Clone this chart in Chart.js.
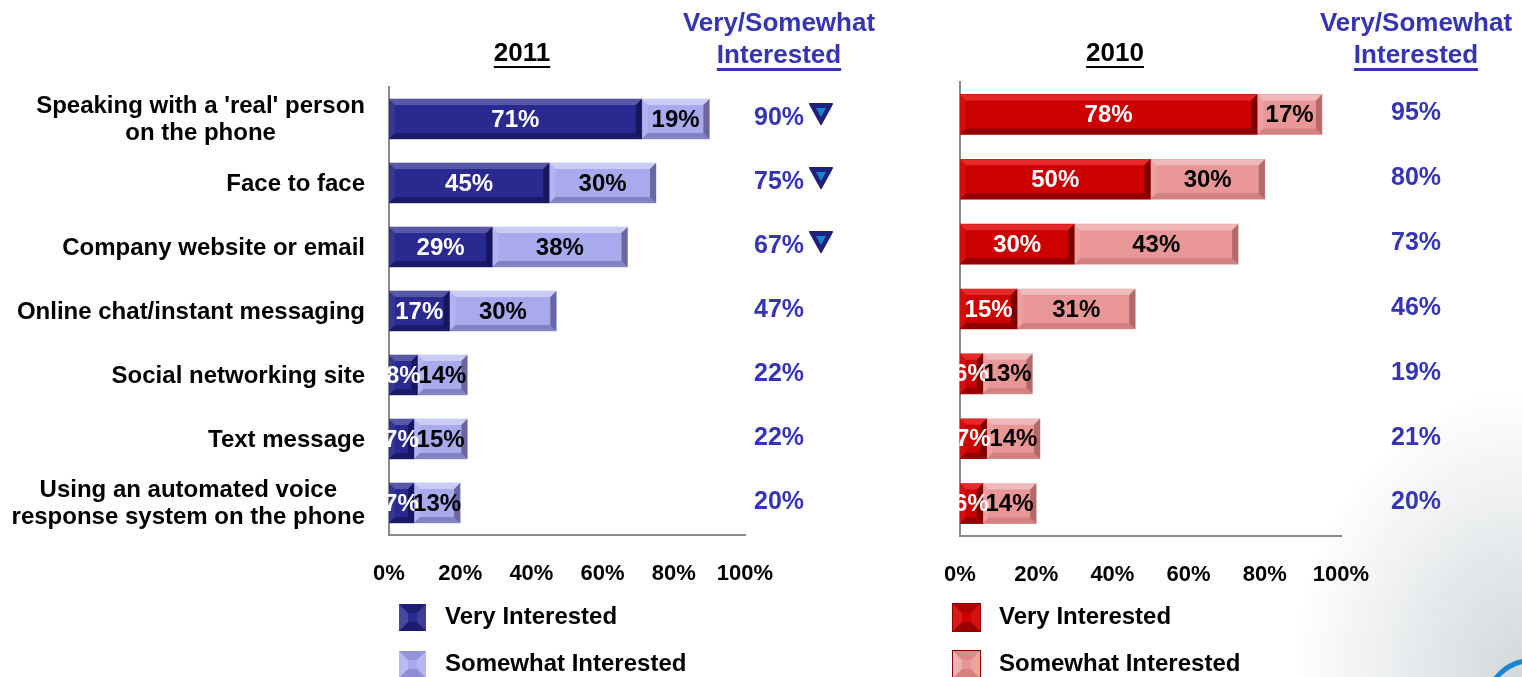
<!DOCTYPE html>
<html>
<head>
<meta charset="utf-8">
<script src="https://cdn.jsdelivr.net/npm/chart.js@4.4.0/dist/chart.umd.min.js"></script>
<style>
  html, body { margin: 0; padding: 0; }
  body {
    width: 1522px; height: 677px; overflow: hidden; position: relative;
    background: radial-gradient(ellipse 230px 290px at 100% 100%, #d3d8db 0%, #e6e9eb 45%, #ffffff 100%);
  }
  canvas { position: absolute; top: 0; }
  #chart2011 { left: 0; }
  #chart2010 { left: 900px; }
  .logo {
    position: absolute; left: 1484px; top: 658px; width: 96px; height: 96px;
    border-radius: 50%; border: 5px solid #1a86d0; box-sizing: border-box;
  }
</style>
</head>
<body>
<canvas id="chart2011" width="900" height="677"></canvas>
<canvas id="chart2010" width="622" height="677"></canvas>
<div class="logo"></div>
<script>
// カテゴリ（複数行ラベル）
const categories = [
    ["Speaking with a 'real' person", "on the phone"],
    ["Face to face"],
    ["Company website or email"],
    ["Online chat/instant messaging"],
    ["Social networking site"],
    ["Text message"],
    ["Using an automated voice", "response system on the phone"]
];
const xTicks = [0, 20, 40, 60, 80, 100];
const seriesNames = ['Very Interested', 'Somewhat Interested'];

// 2011年
const very2011 = [71, 45, 29, 17, 8, 7, 7];
const somewhat2011 = [19, 30, 38, 30, 14, 15, 13];
const total2011 = [90, 75, 67, 47, 22, 22, 20];
const down2011 = [true, true, true, false, false, false, false];

// 2010年
const very2010 = [78, 50, 30, 15, 6, 7, 6];
const somewhat2010 = [17, 30, 43, 31, 13, 14, 14];
const total2010 = [95, 80, 73, 46, 19, 21, 20];
const down2010 = [false, false, false, false, false, false, false];

const FONT = '"Liberation Sans", Arial, sans-serif';
const TOTAL_COLOR = '#3434b4';

// 立体風の縁取り（上・下・左・右の台形）
function drawBevel(ctx, l, t, r, b, d, shades) {
    d = Math.min(d, (r - l) / 2, (b - t) / 2);
    const faces = [
        [[l, t], [r, t], [r - d, t + d], [l + d, t + d], shades[0]],
        [[l, b], [r, b], [r - d, b - d], [l + d, b - d], shades[1]],
        [[l, t], [l + d, t + d], [l + d, b - d], [l, b], shades[2]],
        [[r, t], [r - d, t + d], [r - d, b - d], [r, b], shades[3]]
    ];
    faces.forEach(f => {
        ctx.beginPath();
        ctx.moveTo(f[0][0], f[0][1]);
        for (let k = 1; k < 4; k++) ctx.lineTo(f[k][0], f[k][1]);
        ctx.closePath();
        ctx.fillStyle = f[4];
        ctx.fill();
    });
}

function drawDownTriangle(ctx, cx, cy) {
    ctx.save();
    ctx.lineJoin = 'round';
    ctx.beginPath();
    ctx.moveTo(cx - 11, cy - 10);
    ctx.lineTo(cx + 11, cy - 10);
    ctx.lineTo(cx, cy + 10);
    ctx.closePath();
    ctx.fillStyle = '#20207e';
    ctx.strokeStyle = '#20207e';
    ctx.lineWidth = 2;
    ctx.fill();
    ctx.stroke();
    ctx.beginPath();
    ctx.moveTo(cx - 5, cy - 6);
    ctx.lineTo(cx + 5, cy - 6);
    ctx.lineTo(cx, cy + 3);
    ctx.closePath();
    ctx.fillStyle = '#1c84cc';
    ctx.fill();
    ctx.restore();
}

function underlinedText(ctx, text, x, y, color, thick) {
    ctx.fillStyle = color;
    ctx.fillText(text, x, y);
    const w = ctx.measureText(text).width;
    ctx.fillRect(x - w / 2, y + 12, w, thick);
}

const panelPlugin = {
    id: 'panel',
    afterDatasetsDraw(chart) {
        const ctx = chart.ctx;
        const rects = [];
        ctx.save();
        chart.data.datasets.forEach((ds, di) => {
            chart.getDatasetMeta(di).data.forEach((bar, i) => {
                const p = bar.getProps(['x', 'y', 'base', 'height'], true);
                const l = Math.min(p.x, p.base), r = Math.max(p.x, p.base);
                const t = p.y - p.height / 2, b = p.y + p.height / 2;
                drawBevel(ctx, l, t, r, b, 6, ds.bevel);
                rects.push({ text: ds.data[i] + '%', x: (l + r) / 2, y: p.y, color: ds.labelColor });
            });
        });
        // 値ラベルは全ての棒の上に描く
        ctx.font = `bold 24px ${FONT}`;
        ctx.textAlign = 'center';
        ctx.textBaseline = 'middle';
        rects.forEach(o => {
            ctx.fillStyle = o.color;
            ctx.fillText(o.text, o.x, o.y + 1);
        });
        ctx.restore();
    },
    afterDraw(chart, args, opts) {
        const ctx = chart.ctx;
        const yScale = chart.scales.y;
        ctx.save();
        ctx.textBaseline = 'middle';
        ctx.textAlign = 'center';

        // 見出し
        ctx.font = `bold 26px ${FONT}`;
        underlinedText(ctx, opts.year, opts.yearX, 54, '#000', 2);
        ctx.fillStyle = TOTAL_COLOR;
        ctx.fillText('Very/Somewhat', opts.headX, 24);
        underlinedText(ctx, 'Interested', opts.headX, 56, TOTAL_COLOR, 3);

        // 合計値と低下マーク
        ctx.font = `bold 25px ${FONT}`;
        opts.totals.forEach((v, i) => {
            const cy = yScale.getPixelForValue(i);
            ctx.fillStyle = TOTAL_COLOR;
            ctx.fillText(v + '%', opts.headX, cy - 1);
            if (opts.down[i]) drawDownTriangle(ctx, opts.headX + 42, cy - 5);
        });

        // カテゴリ名（右揃えのブロック内で中央揃え）
        if (opts.labelRight) {
            ctx.font = `bold 24px ${FONT}`;
            ctx.fillStyle = '#000';
            categories.forEach((lines, i) => {
                const cy = yScale.getPixelForValue(i) + 1;
                const maxW = Math.max(...lines.map(s => ctx.measureText(s).width));
                const cx = opts.labelRight - maxW / 2;
                lines.forEach((s, j) => {
                    ctx.fillText(s, cx, cy + (j - (lines.length - 1) / 2) * 27);
                });
            });
        }

        // 凡例
        ctx.textAlign = 'left';
        ctx.font = `bold 24px ${FONT}`;
        chart.data.datasets.forEach((ds, di) => {
            const top = 604 + di * 47;
            const l = opts.legendX, s = 27;
            if (ds.swatchBorder) {
                ctx.fillStyle = ds.swatchBorder;
                ctx.fillRect(l - 1, top - 1, s + 2, s + 2);
            }
            ctx.fillStyle = ds.backgroundColor;
            ctx.fillRect(l, top, s, s);
            drawBevel(ctx, l, top, l + s, top + s, 9, ds.swatchBevel);
            ctx.fillStyle = '#000';
            ctx.fillText(ds.label, l + 46, top + 13);
        });
        ctx.restore();
    }
};

function makeChart(id, cfg) {
    return new Chart(document.getElementById(id), {
        type: 'bar',
        data: {
            labels: categories.map(c => c.join(' ')),
            datasets: [{
                label: seriesNames[0],
                data: cfg.very,
                backgroundColor: cfg.colors[0],
                labelColor: '#fff',
                bevel: cfg.bevels[0],
                swatchBevel: cfg.swatchBevels[0],
                swatchBorder: cfg.swatchBorder,
                barThickness: 40
            }, {
                label: seriesNames[1],
                data: cfg.somewhat,
                backgroundColor: cfg.colors[1],
                labelColor: '#000',
                bevel: cfg.bevels[1],
                swatchBevel: cfg.swatchBevels[1],
                swatchBorder: cfg.swatchBorder,
                barThickness: 40
            }]
        },
        options: {
            indexAxis: 'y',
            responsive: false,
            animation: false,
            layout: { padding: cfg.padding },
            scales: {
                x: {
                    stacked: true,
                    min: 0,
                    max: 100,
                    grid: { display: false, drawTicks: false },
                    border: { color: '#8a8a8a', width: 2 },
                    afterBuildTicks: s => { s.ticks = xTicks.map(v => ({ value: v })); },
                    afterFit: s => { s.height = cfg.xHeight; },
                    ticks: {
                        color: '#000',
                        padding: 26,
                        maxRotation: 0,
                        autoSkip: false,
                        font: { family: FONT, size: 22, weight: 'bold' },
                        callback: v => v + '%'
                    }
                },
                y: {
                    stacked: true,
                    grid: { display: false, drawTicks: false },
                    border: { color: '#8a8a8a', width: 2 },
                    ticks: { display: false },
                    afterFit: s => { s.width = 0; }
                }
            },
            plugins: {
                legend: { display: false },
                tooltip: { enabled: false },
                panel: cfg.panel
            }
        },
        plugins: [panelPlugin]
    });
}

const blueBevel = [
    ['rgba(255,255,255,0.22)', 'rgba(0,0,30,0.35)', 'rgba(255,255,255,0.06)', 'rgba(0,0,30,0.45)'],
    ['rgba(255,255,255,0.4)', 'rgba(40,40,90,0.3)', 'rgba(255,255,255,0.12)', 'rgba(40,40,80,0.5)']
];
const redBevel = [
    ['rgba(255,90,90,0.45)', 'rgba(60,0,0,0.4)', 'rgba(255,80,80,0.15)', 'rgba(40,0,0,0.5)'],
    ['rgba(255,255,255,0.35)', 'rgba(120,40,40,0.2)', 'rgba(255,255,255,0.12)', 'rgba(90,40,40,0.4)']
];
const blueSwatch = [
    ['rgba(0,0,30,0.25)', 'rgba(0,0,30,0.3)', 'rgba(255,255,255,0.15)', 'rgba(255,255,255,0.1)'],
    ['rgba(60,60,140,0.2)', 'rgba(60,60,140,0.25)', 'rgba(255,255,255,0.2)', 'rgba(255,255,255,0.15)']
];
const redSwatch = [
    ['rgba(60,0,0,0.2)', 'rgba(60,0,0,0.35)', 'rgba(255,80,80,0.3)', 'rgba(255,80,80,0.2)'],
    ['rgba(160,60,60,0.15)', 'rgba(160,60,60,0.25)', 'rgba(255,255,255,0.25)', 'rgba(255,255,255,0.15)']
];

makeChart('chart2011', {
    very: very2011,
    somewhat: somewhat2011,
    colors: ['#29298f', '#a9a9ee'],
    bevels: blueBevel,
    swatchBevels: blueSwatch,
    swatchBorder: null,
    padding: { left: 389, right: 155, top: 87, bottom: 0 },
    xHeight: 142,
    panel: { year: '2011', yearX: 522, headX: 779, totals: total2011, down: down2011, labelRight: 365, legendX: 399 }
});

makeChart('chart2010', {
    very: very2010,
    somewhat: somewhat2010,
    colors: ['#cc0000', '#e99696'],
    bevels: redBevel,
    swatchBevels: redSwatch,
    swatchBorder: '#8a0000',
    padding: { left: 60, right: 181, top: 82, bottom: 0 },
    xHeight: 141,
    panel: { year: '2010', yearX: 215, headX: 516, totals: total2010, down: down2010, labelRight: 0, legendX: 53 }
});
</script>
</body>
</html>
